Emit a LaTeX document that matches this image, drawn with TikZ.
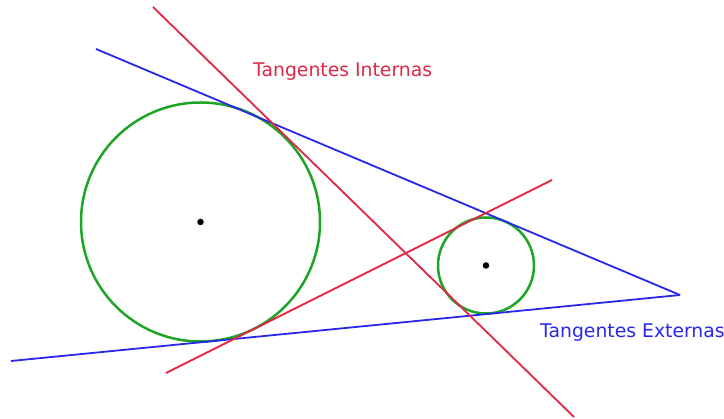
\documentclass[tikz,border=0pt]{standalone}
\usepackage{fontspec}
\setmainfont{DejaVu Sans}
\definecolor{tred}{RGB}{222,40,70}
\definecolor{tblue}{RGB}{40,40,235}
\definecolor{tgreen}{RGB}{30,165,40}
\begin{document}
\begin{tikzpicture}[x=1pt,y=-1pt,
  tline/.style={line width=1.8pt},
  circ/.style={draw=tgreen,line width=2.5pt},
  ctr/.style={circle,fill=black,inner sep=0pt,minimum size=6.5pt},
  lbl/.style={anchor=base west,inner sep=0pt,font=\fontsize{18.8}{21}\selectfont}]
\useasboundingbox[fill=white] (0,0) rectangle (724,419);
% centres
\node[ctr] (c1) at (200.5,222) {};
\node[ctr] (c2) at (486,265.5) {};
% circles
\draw[circ] (c1.center) circle[radius=119.5];
\draw[circ] (c2.center) circle[radius=48];
% endpoints
\coordinate (b1) at (96,49);
\coordinate (b2) at (11,361);
\coordinate (apex) at (680,295);
\coordinate (r1a) at (153,7);
\coordinate (r1b) at (574,417);
\coordinate (r2a) at (166,373);
\coordinate (r2b) at (552,180);
% external tangents
\draw[tline,tblue] (b1) -- (apex);
\draw[tline,tblue] (b2) -- (apex);
% internal tangents
\draw[tline,tred] (r1a) -- (r1b);
\draw[tline,tred] (r2a) -- (r2b);
% labels
\node[lbl,text=tred] (ti) at (253,77) {Tangentes Internas};
\node[lbl,text=tblue] (te) at (540,338) {Tangentes Externas};
\end{tikzpicture}
\end{document}
